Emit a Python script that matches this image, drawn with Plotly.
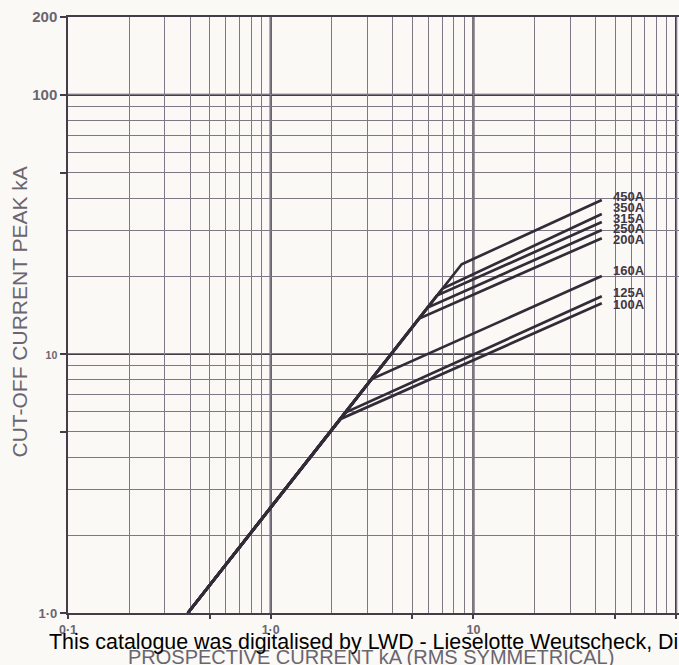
import plotly.graph_objects as go
import math

# ---- data ----
ratings = ["100A", "125A", "160A", "200A", "250A", "315A", "350A", "450A"]
start_x = 0.39
start_y = 1.0
knee_x = [2.2, 2.35, 3.15, 5.4, 5.95, 6.6, 7.05, 8.75]
knee_y = [5.6, 5.95, 8.0, 13.7, 15.1, 16.8, 17.9, 22.2]
end_x = 43.0
end_y = [15.7, 16.7, 20.0, 28.0, 30.1, 32.3, 34.7, 39.3]

x_major = [0.1, 0.5, 1, 5, 10, 50, 100]
x_major_text = ["<b>0·1</b>", "", "<b>1·0</b>", "", "<b>10</b>", "", "<b>100</b>"]
x_minor = [0.2, 0.3, 0.4, 0.6, 0.7, 0.8, 0.9,
           2, 3, 4, 6, 7, 8, 9,
           20, 30, 40, 60, 70, 80, 90]
x_decades = [1, 10, 100]

y_major = [1, 5, 10, 50, 100, 200]
y_major_text = ["<b>1·0</b>", "",
                "<span style=\"font-size:10.5px\"><b>10</b></span>", "",
                "<span style=\"font-size:15px\"><b>100</b></span>",
                "<span style=\"font-size:15px\"><b>200</b></span>"]
y_minor = [2, 3, 4, 6, 7, 8, 9, 20, 30, 40, 60, 70, 80, 90]
y_decades = [10, 100]

# label vertical offsets (px) relative to line ends
label_yshift = [-1, 4, 6, -1, 2, 4, 7, 4]

BG = "#FBF9F5"
GRID = "#7d7884"
DARK = "#433d4a"
CURVE = "#322c38"
TXT = "#6a6570"

fig = go.Figure()
for i, r in enumerate(ratings):
    fig.add_trace(go.Scatter(
        x=[start_x, knee_x[i], end_x],
        y=[start_y, knee_y[i], end_y[i]],
        mode="lines",
        line=dict(color=CURVE, width=2.7),
        name=r, showlegend=False, hoverinfo="skip",
    ))

shapes = []
for xv in x_decades:
    shapes.append(dict(type="line", xref="x", yref="paper", x0=xv, x1=xv, y0=0, y1=1,
                       line=dict(color=DARK, width=2.2), layer="between"))
for yv in y_decades:
    shapes.append(dict(type="line", xref="paper", yref="y", x0=0, x1=1, y0=yv, y1=yv,
                       line=dict(color=DARK, width=2.2), layer="between"))

annotations = []
for i, r in enumerate(ratings):
    annotations.append(dict(
        x=math.log10(end_x), y=math.log10(end_y[i]), xref="x", yref="y",
        text="<b>%s</b>" % r, showarrow=False, xanchor="left", yanchor="middle",
        xshift=9, yshift=label_yshift[i],
        font=dict(family="Liberation Sans", size=13, color="#3e3844"),
    ))

plot_l, plot_r, plot_t, plot_b = 68, 679, 17, 613
pw, ph = plot_r - plot_l, plot_b - plot_t

def px(xp):
    return (xp - plot_l) / pw

def py(yp):
    return (plot_b - yp) / ph

annotations.append(dict(
    x=px(18.5), y=py(312), xref="paper", yref="paper",
    text="CUT-OFF CURRENT PEAK kA", textangle=-90, showarrow=False,
    xanchor="center", yanchor="middle",
    font=dict(family="Liberation Sans", size=21, color=TXT),
))
annotations.append(dict(
    x=px(370.5), y=py(657), xref="paper", yref="paper",
    text="PROSPECTIVE CURRENT kA (RMS SYMMETRICAL)", showarrow=False,
    xanchor="center", yanchor="middle",
    font=dict(family="Liberation Sans", size=20, color=TXT),
))
annotations.append(dict(
    x=px(47), y=py(642), xref="paper", yref="paper",
    text="This catalogue was digitalised by LWD - Lieselotte Weutscheck, Di",
    showarrow=False, xanchor="left", yanchor="middle",
    font=dict(family="Liberation Sans", size=21.4, color="#000000"),
))

x_hi = -1 + pw / 202.7

fig.update_layout(
    width=679, height=665,
    margin=dict(l=plot_l, r=0, t=plot_t, b=665 - plot_b),
    paper_bgcolor=BG, plot_bgcolor=BG,
    shapes=shapes, annotations=annotations,
    xaxis=dict(
        type="log", range=[-1, x_hi],
        tickvals=x_major, ticktext=x_major_text,
        ticks="outside", ticklen=4, tickwidth=1.5, tickcolor=DARK,
        tickfont=dict(family="Liberation Sans", size=12.5, color=TXT),
        showgrid=True, gridcolor=GRID, gridwidth=1.2,
        showline=True, linecolor=DARK, linewidth=2.2, mirror=True,
        zeroline=False,
        minor=dict(tickvals=x_minor, showgrid=True, gridcolor=GRID, gridwidth=1.2, ticks=""),
    ),
    yaxis=dict(
        type="log", range=[0, math.log10(200)],
        tickvals=y_major, ticktext=y_major_text,
        ticks="outside", ticklen=6, tickwidth=1.5, tickcolor=DARK,
        tickfont=dict(family="Liberation Sans", size=13, color=TXT),
        showgrid=True, gridcolor=GRID, gridwidth=1.2,
        showline=True, linecolor=DARK, linewidth=2.2,
        zeroline=False,
        minor=dict(tickvals=y_minor, showgrid=True, gridcolor=GRID, gridwidth=1.2, ticks=""),
    ),
)

fig.write_html("out.html")
